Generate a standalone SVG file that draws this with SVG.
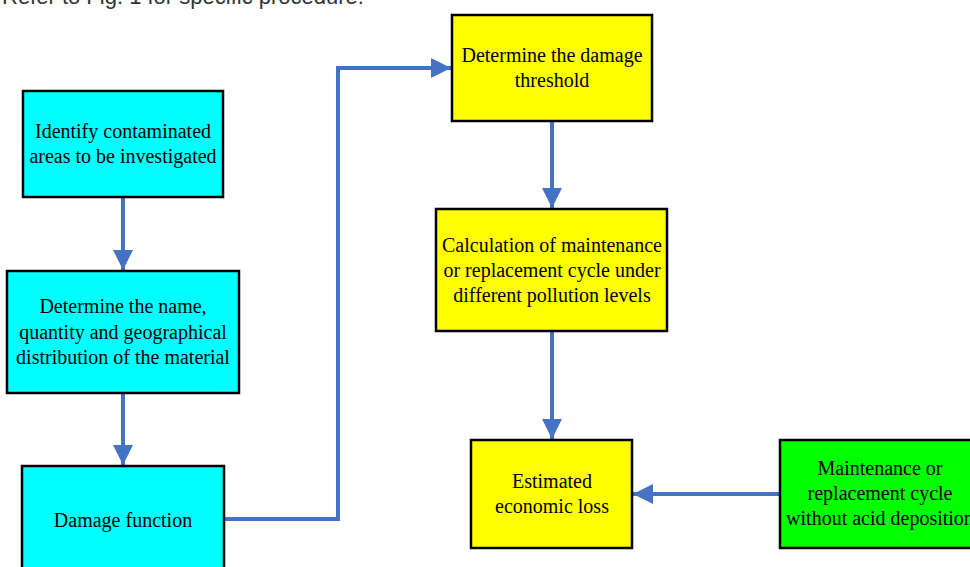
<svg xmlns="http://www.w3.org/2000/svg" width="970" height="567" viewBox="0 0 970 567">
<style>
.box{stroke:#000;stroke-width:2.5}
.cyan{fill:#00FFFF}
.yellow{fill:#FFFF00}
.green{fill:#00FF00}
.t{font-family:"Liberation Serif","Times New Roman",serif;font-size:20px;fill:#000;text-anchor:middle}
.c{fill:none;stroke:#4472C4;stroke-width:4}
</style>
<defs>
<marker id="ah" markerUnits="userSpaceOnUse" markerWidth="20" markerHeight="20" viewBox="0 0 20 20" refX="20" refY="10" orient="auto">
<path d="M0,0 L20,10 L0,20 Z" fill="#4472C4"/>
</marker>
</defs>
<text x="2" y="4" style="font-family:'Liberation Sans',Arial,sans-serif;font-size:22px;fill:#333">Refer to Fig. 1 for specific procedure.</text>
<g id="connectors">
<line class="c" x1="123" y1="198" x2="123" y2="270" marker-end="url(#ah)"/>
<line class="c" x1="123" y1="394" x2="123" y2="465" marker-end="url(#ah)"/>
<polyline class="c" points="225,519 338,519 338,68 451,68" marker-end="url(#ah)"/>
<line class="c" x1="552" y1="122" x2="552" y2="208" marker-end="url(#ah)"/>
<line class="c" x1="552" y1="332" x2="552" y2="439" marker-end="url(#ah)"/>
<line class="c" x1="780" y1="494" x2="633" y2="494" marker-end="url(#ah)"/>
</g>
<g id="n1">
<rect class="box cyan" x="23" y="91" width="200" height="106"/>
<text class="t" x="123" y="138">Identify contaminated</text>
<text class="t" x="123" y="163">areas to be investigated</text>
</g>
<g id="n2">
<rect class="box cyan" x="7" y="271" width="232" height="122"/>
<text class="t" x="123" y="313">Determine the name,</text>
<text class="t" x="123" y="339">quantity and geographical</text>
<text class="t" x="123" y="364">distribution of the material</text>
</g>
<g id="n3">
<rect class="box cyan" x="22" y="466" width="202" height="120"/>
<text class="t" x="123" y="527">Damage function</text>
</g>
<g id="n4">
<rect class="box yellow" x="452" y="15" width="200" height="106"/>
<text class="t" x="552" y="62">Determine the damage</text>
<text class="t" x="552" y="87">threshold</text>
</g>
<g id="n5">
<rect class="box yellow" x="436" y="209" width="231" height="122"/>
<text class="t" x="552" y="252">Calculation of maintenance</text>
<text class="t" x="552" y="277">or replacement cycle under</text>
<text class="t" x="552" y="302">different pollution levels</text>
</g>
<g id="n6">
<rect class="box yellow" x="471" y="440" width="161" height="108"/>
<text class="t" x="552" y="488">Estimated</text>
<text class="t" x="552" y="513">economic loss</text>
</g>
<g id="n7">
<rect class="box green" x="780" y="440" width="200" height="108"/>
<text class="t" x="880" y="475">Maintenance or</text>
<text class="t" x="880" y="500">replacement cycle</text>
<text class="t" x="880" y="525">without acid deposition</text>
</g>
</svg>
